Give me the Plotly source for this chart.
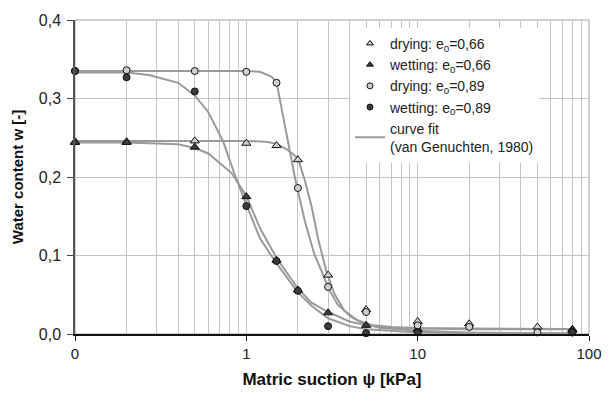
import plotly.graph_objects as go

# Measured points: matric suction [kPa] and water content w [-]
suction_dry = [0.1, 0.2, 0.5, 1, 1.5, 2, 3, 5, 10, 20, 50, 80]
suction_wet = [0.1, 0.2, 0.5, 1, 1.5, 2, 3, 5, 10, 80]

w_dry_066 = [0.245, 0.245, 0.246, 0.243, 0.240, 0.222, 0.075, 0.031, 0.016, 0.013, 0.009, 0.006]
w_wet_066 = [0.244, 0.244, 0.238, 0.175, 0.094, 0.056, 0.027, 0.011, 0.006, 0.005]
w_dry_089 = [0.335, 0.336, 0.335, 0.334, 0.320, 0.186, 0.060, 0.028, 0.011, 0.009, 0.002, 0.002]
w_wet_089 = [0.335, 0.327, 0.309, 0.163, 0.093, 0.055, 0.010, 0.001, 0.002, 0.002]

# Fitted retention curves (van Genuchten, 1980)
fit_dry_066_x = [0.1, 0.5, 1.0, 1.3, 1.5, 1.73, 2.0, 2.2, 2.4, 2.62, 2.93, 3.27, 3.73, 4.44, 5.5, 7, 10, 20, 50, 80]
fit_dry_066_y = [0.246, 0.246, 0.246, 0.245, 0.2425, 0.235, 0.224, 0.195, 0.163, 0.122, 0.080, 0.051, 0.030,
                 0.0175, 0.011, 0.009, 0.0075, 0.007, 0.0065, 0.0065]

fit_dry_089_x = [0.1, 0.5, 1.0, 1.2, 1.4, 1.5, 1.7, 1.93, 2.2, 2.5, 2.75, 3.0, 3.4, 4.07, 4.85, 6, 10, 20, 50, 80]
fit_dry_089_y = [0.335, 0.335, 0.335, 0.334, 0.328, 0.321, 0.260, 0.197, 0.143, 0.101, 0.080, 0.059, 0.038,
                 0.022, 0.013, 0.008, 0.004, 0.002, 0.001, 0.001]

fit_wet_066_x = [0.1, 0.2, 0.4, 0.5, 0.6, 0.82, 1.0, 1.2, 1.5, 2.0, 2.4, 3.0, 4.0, 5.0, 7, 10, 20, 50, 80]
fit_wet_066_y = [0.244, 0.244, 0.2416, 0.237, 0.230, 0.205, 0.176, 0.135, 0.097, 0.058, 0.040, 0.028, 0.016,
                 0.011, 0.008, 0.007, 0.006, 0.006, 0.006]

fit_wet_089_x = [0.1, 0.2, 0.27, 0.4, 0.5, 0.6, 0.73, 0.85, 1.0, 1.2, 1.5, 2.0, 2.4, 3.0, 4.0, 5.0, 7, 10, 20, 50, 80]
fit_wet_089_y = [0.333, 0.333, 0.330, 0.320, 0.304, 0.2825, 0.246, 0.205, 0.165, 0.122, 0.090, 0.053, 0.036,
                 0.020, 0.010, 0.006, 0.004, 0.002, 0.001, 0.001, 0.001]

x_tick_vals = [0.1, 1, 10, 100]
x_tick_text = ["0", "1", "10", "100"]
y_tick_vals = [0.0, 0.1, 0.2, 0.3, 0.4]
y_tick_text = ["0,0", "0,1", "0,2", "0,3", "0,4"]

FONT = "Liberation Sans, Arial, sans-serif"
CURVE = "#9a9a9a"
LIGHT = "#cfcfcf"
DARK = "#3c3c3c"
GRID = "#c4c4c4"

fig = go.Figure()

for fx, fy in [(fit_dry_066_x, fit_dry_066_y), (fit_dry_089_x, fit_dry_089_y),
               (fit_wet_066_x, fit_wet_066_y), (fit_wet_089_x, fit_wet_089_y)]:
    fig.add_trace(go.Scatter(x=fx, y=fy, mode="lines", showlegend=False,
                             line=dict(color=CURVE, width=2), hoverinfo="skip"))

series = [
    ("drying: e<sub>0</sub>=0,66", suction_dry, w_dry_066, "triangle-up", LIGHT),
    ("wetting: e<sub>0</sub>=0,66", suction_wet, w_wet_066, "triangle-up", DARK),
    ("drying: e<sub>0</sub>=0,89", suction_dry, w_dry_089, "circle", LIGHT),
    ("wetting: e<sub>0</sub>=0,89", suction_wet, w_wet_089, "circle", DARK),
]

for name, xs, ys, sym, fill in series:
    size = 8 if sym == "triangle-up" else 7
    fig.add_trace(go.Scatter(x=xs, y=ys, mode="markers", name=name, showlegend=False,
                             cliponaxis=False,
                             marker=dict(symbol=sym, size=size, color=fill,
                                         line=dict(color="#111111", width=1))))

# legend entries with smaller symbols
for name, xs, ys, sym, fill in series:
    fig.add_trace(go.Scatter(x=[None], y=[None], mode="markers", name=name,
                             marker=dict(symbol=sym, size=6, color=fill,
                                         line=dict(color="#111111", width=1))))
fig.add_trace(go.Scatter(x=[None], y=[None], mode="lines",
                         name="curve fit<br>(van Genuchten, 1980)",
                         line=dict(color=CURVE, width=2)))

# grey frame around the plot area
fig.add_shape(type="rect", xref="paper", yref="paper", x0=0, x1=1, y0=0, y1=1,
              line=dict(color="#a0a0a0", width=1), layer="below")

fig.update_layout(
    width=614, height=401,
    margin=dict(l=75, r=15, t=13, b=67),
    paper_bgcolor="white", plot_bgcolor="white",
    font=dict(family=FONT, size=14, color="#222222"),
    legend=dict(x=0.535, y=0.975, xanchor="left", yanchor="top",
                bgcolor="white", borderwidth=0,
                font=dict(family=FONT, size=14, color="#222222"),
                tracegroupgap=0),
    xaxis=dict(type="log", range=[-1, 2],
               tickmode="array", tickvals=x_tick_vals, ticktext=x_tick_text,
               ticks="outside", ticklen=5, tickcolor="#222222",
               showgrid=True, gridcolor=GRID, gridwidth=1,
               minor=dict(dtick="D1", showgrid=True, gridcolor=GRID, gridwidth=1, ticks=""),
               showline=True, linecolor="#111111", linewidth=1.5,
               zeroline=False,
               tickfont=dict(family=FONT, size=15, color="#222222"),
               title=dict(text="Matric suction ψ [kPa]", standoff=12,
                          font=dict(family=FONT, size=17, color="#111111", weight="bold"))),
    yaxis=dict(range=[0, 0.4],
               tickmode="array", tickvals=y_tick_vals, ticktext=y_tick_text,
               ticks="outside", ticklen=6, tickcolor="#444444",
               ticklabelstandoff=3,
               showgrid=True, gridcolor=GRID, gridwidth=1,
               showline=True, linecolor="#555555", linewidth=1.5,
               zeroline=False,
               tickfont=dict(family=FONT, size=16, color="#222222"),
               title=dict(text="Water content w [-]", standoff=12,
                          font=dict(family=FONT, size=15, color="#111111", weight="bold"))),
)

fig.write_html("out.html")
